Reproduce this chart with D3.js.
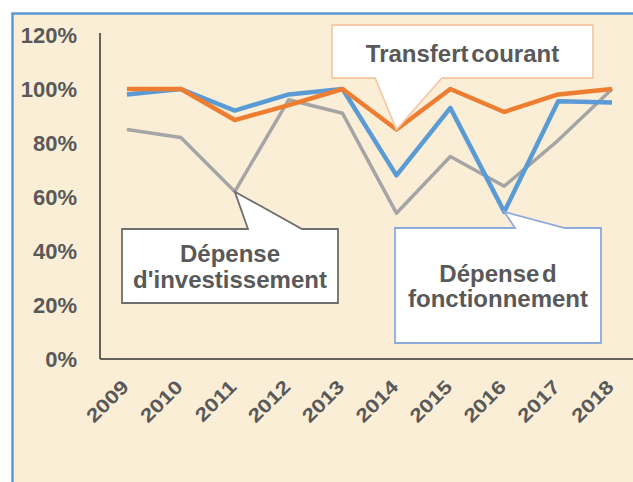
<!DOCTYPE html>
<html>
<head>
<meta charset="utf-8">
<script src="https://cdn.jsdelivr.net/npm/d3@7"></script>
<style>
  body { margin: 0; background: #fff; }
  svg { display: block; font-family: Arial, "Liberation Sans", sans-serif; }
</style>
</head>
<body>
<div id="chart"></div>
<script>
// data
const years = ["2009", "2010", "2011", "2012", "2013", "2014", "2015", "2016", "2017", "2018"];
const transfert = [100, 100, 88.5, 94, 100, 85, 100, 91.5, 98, 100];
const fonctionnement = [98, 100, 92, 98, 100, 68, 93, 54.5, 95.5, 95];
const investissement = [85, 82, 62, 96, 91, 54, 75, 64, 81, 100];
const yTicks = [0, 20, 40, 60, 80, 100, 120];

const W = 633, H = 482;

const svg = d3.select("#chart").append("svg")
  .attr("width", W)
  .attr("height", H);

// frame
svg.append("rect")
  .attr("x", 12.5).attr("y", 13.5)
  .attr("width", 640).attr("height", 480)
  .attr("fill", "#fbeed7")
  .attr("stroke", "#5b9bd5")
  .attr("stroke-width", 2.5);

const x = d3.scaleBand()
  .domain(years)
  .range([100, 639]);

const y = d3.scaleLinear()
  .domain([0, 120])
  .range([359, 35]);

const cx = d => x(d) + x.bandwidth() / 2;

// axes lines
svg.append("line")
  .attr("x1", 100).attr("x2", 100)
  .attr("y1", 33).attr("y2", y(0))
  .attr("stroke", "#333").attr("stroke-width", 1.5);

svg.append("line")
  .attr("x1", 100).attr("x2", W)
  .attr("y1", y(0)).attr("y2", y(0))
  .attr("stroke", "#333").attr("stroke-width", 1.5);

svg.selectAll(".ylab")
  .data(yTicks)
  .join("text")
  .attr("class", "ylab")
  .attr("x", 77)
  .attr("y", d => y(d))
  .attr("dy", "0.36em")
  .attr("text-anchor", "end")
  .style("font-size", "22px")
  .style("font-weight", "bold")
  .style("fill", "#595959")
  .text(d => d + "%");

svg.selectAll(".xlab")
  .data(years)
  .join("text")
  .attr("class", "xlab")
  .attr("transform", d => `translate(${cx(d) + 3},${y(0) + 29}) rotate(-45) scale(1.2,1)`)
  .attr("text-anchor", "end")
  .style("font-size", "19px")
  .style("font-weight", "bold")
  .style("fill", "#595959")
  .text(d => d);

// lines
const line = d3.line()
  .x((d, i) => cx(years[i]))
  .y(d => y(d));

const series = [
  { values: investissement, color: "#a5a5a5", w: 3.5 },
  { values: fonctionnement, color: "#5b9bd5", w: 4.5 },
  { values: transfert, color: "#ed7d31", w: 4.5 }
];

svg.selectAll(".series")
  .data(series)
  .join("path")
  .attr("class", "series")
  .attr("fill", "none")
  .attr("stroke", d => d.color)
  .attr("stroke-width", d => d.w)
  .attr("stroke-linejoin", "round")
  .attr("d", d => line(d.values));

// callouts: box + pointer to a data point
function callout(box, tipYear, tipValue, baseL, baseR, stroke, lines, textY, lh) {
  const tx = cx(tipYear), ty = y(tipValue);
  let pts;
  if (ty > box.y + box.h) {
    pts = [[box.x, box.y], [box.x + box.w, box.y], [box.x + box.w, box.y + box.h],
      [baseR, box.y + box.h], [tx, ty], [baseL, box.y + box.h], [box.x, box.y + box.h]];
  } else {
    pts = [[box.x, box.y], [baseL, box.y], [tx, ty], [baseR, box.y],
      [box.x + box.w, box.y], [box.x + box.w, box.y + box.h], [box.x, box.y + box.h]];
  }
  svg.append("path")
    .attr("d", "M" + pts.map(p => p.join(",")).join("L") + "Z")
    .attr("fill", "#fff")
    .attr("stroke", stroke)
    .attr("stroke-width", 1.8);
  svg.selectAll(null)
    .data(lines)
    .join("text")
    .attr("x", box.x + box.w / 2)
    .attr("y", (d, i) => textY + i * lh)
    .attr("text-anchor", "middle")
    .style("font-size", "24px")
    .style("font-weight", "bold")
    .style("word-spacing", "-4px")
    .style("fill", "#595959")
    .text(d => d);
}

callout({ x: 332, y: 25, w: 261, h: 53 }, "2014", transfert[5], 375, 442,
  "#f5c9aa", ["Transfert courant"], 62, 0);

callout({ x: 122, y: 229, w: 216, h: 74 }, "2011", investissement[2], 248, 302,
  "#6e6e6e", ["Dépense", "d'investissement"], 262, 26);

callout({ x: 395, y: 228, w: 206, h: 115 }, "2016", fonctionnement[7], 515, 565,
  "#8eaadb", ["Dépense d", "fonctionnement"], 282, 25);
</script>
</body>
</html>
